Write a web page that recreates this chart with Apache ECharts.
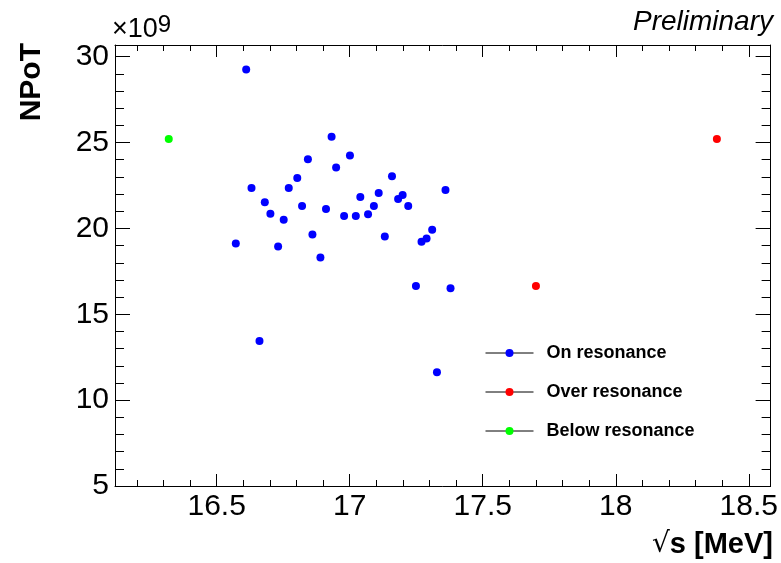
<!DOCTYPE html>
<html>
<head>
<meta charset="utf-8">
<script src="https://cdn.jsdelivr.net/npm/echarts@6/dist/echarts.min.js"></script>
<style>html,body{margin:0;padding:0;background:#fff}#c{width:781px;height:563px}</style>
</head>
<body>
<div id="c"></div>
<script>
// Data (NPoT in units of 1e9, sqrt(s) in MeV)
const onX = [16.611, 16.932, 16.843, 16.949, 16.803, 16.631, 16.771, 16.681, 16.821, 16.911, 16.702, 16.752, 16.860, 16.572, 16.731, 16.890, 17.001, 17.159, 17.360, 17.109, 17.040, 17.199, 17.182, 17.091, 17.220, 16.979, 17.023, 17.069, 17.132, 17.310, 17.289, 17.270, 17.249, 17.379, 17.328, 16.661];
const onY = [29.25, 25.34, 24.02, 23.55, 22.93, 22.35, 22.35, 21.53, 21.30, 21.13, 20.85, 20.50, 19.64, 19.12, 18.94, 18.30, 24.25, 23.03, 22.23, 22.06, 21.83, 21.94, 21.71, 21.30, 21.30, 20.72, 20.72, 20.83, 19.53, 19.92, 19.41, 19.22, 16.65, 16.52, 11.62, 13.44];
const overX = [17.70, 18.38];
const overY = [16.65, 25.21];
const belowX = [16.32];
const belowY = [25.21];
const seriesNames = ['On resonance', 'Over resonance', 'Below resonance'];
const yTitle = 'NPoT';
const tag = 'Preliminary';

const zip = (a, b) => a.map((v, i) => [v, b[i]]);
const FONT = 'Liberation Sans, Arial, Helvetica, sans-serif';

const chart = echarts.init(document.getElementById('c'), null, {renderer: 'canvas'});

function mkSeries(name, data, color) {
  return {
    name: name, type: 'line', data: data,
    symbol: 'circle', symbolSize: 8, showSymbol: true, showAllSymbol: true,
    lineStyle: {width: 0, opacity: 0},
    itemStyle: {color: color},
    emphasis: {disabled: true},
    silent: true, z: 5
  };
}

const xCommon = {
  type: 'value', min: 16.118, max: 18.582, splitNumber: 5,
  splitLine: {show: false},
  axisLine: {show: true, onZero: false, lineStyle: {color: '#000', width: 1}},
  minorTick: {show: true, splitNumber: 5, length: 6, lineStyle: {color: '#000', width: 1}},
  axisTick: {show: true, inside: true, length: 12, lineStyle: {color: '#000', width: 1}}
};
const yCommon = {
  type: 'value', min: 5, max: 30.68, splitNumber: 5,
  splitLine: {show: false},
  axisLine: {show: true, onZero: false, lineStyle: {color: '#000', width: 1}},
  minorTick: {show: true, splitNumber: 5, length: 9, lineStyle: {color: '#000', width: 1}},
  axisTick: {show: true, inside: true, length: 15, lineStyle: {color: '#000', width: 1}}
};

chart.setOption({
  animation: false,
  backgroundColor: '#fff',
  grid: {left: 115, right: 7, top: 45, bottom: 77, containLabel: false},
  xAxis: [
    Object.assign({}, xCommon, {
      position: 'bottom',
      axisLabel: {show: true, color: '#000', fontFamily: FONT, fontSize: 30, margin: 6,
                  showMinLabel: false, showMaxLabel: false}
    }),
    Object.assign({}, xCommon, {position: 'top', axisLabel: {show: false}})
  ],
  yAxis: [
    Object.assign({}, yCommon, {
      position: 'left',
      axisLabel: {show: true, color: '#000', fontFamily: FONT, fontSize: 30, margin: 6,
                  showMaxLabel: false}
    }),
    Object.assign({}, yCommon, {position: 'right', axisLabel: {show: false}})
  ],
  legend: {
    orient: 'vertical', left: 480, top: 339,
    itemWidth: 48, itemHeight: 10, itemGap: 21,
    lineStyle: {color: '#000', width: 1, opacity: 1},
    textStyle: {color: '#000', fontFamily: FONT, fontWeight: 'bold', fontSize: 18, padding: [0, 0, 0, 8]},
    data: seriesNames,
    selectedMode: false
  },
  series: [
    mkSeries(seriesNames[0], zip(onX, onY), '#0000ff'),
    mkSeries(seriesNames[1], zip(overX, overY), '#ff0000'),
    mkSeries(seriesNames[2], zip(belowX, belowY), '#00ff00')
  ],
  graphic: [
    {type: 'text', x: 17, y: 43, rotation: Math.PI / 2,
     style: {text: yTitle, font: 'bold 30px ' + FONT, fill: '#000', align: 'right', verticalAlign: 'top'}},
    {type: 'text', right: 8, top: 530,
     style: {text: '{r|\u221A}{b|s [MeV]}', fill: '#000',
             rich: {r: {font: '28px DejaVu Sans', fill: '#000'}, b: {font: 'bold 29px ' + FONT, fill: '#000'}}}},
    {type: 'text', left: 112, top: 13,
     style: {text: '{n|\u00D710}{s|9}', fill: '#000',
             rich: {n: {font: '27px ' + FONT, fill: '#000'},
                    s: {font: '24px ' + FONT, fill: '#000', verticalAlign: 'bottom', padding: [0, 0, 9, 0]}}}},
    {type: 'text', right: 8, top: 8,
     style: {text: tag, font: 'italic 28px ' + FONT, fill: '#000'}}
  ]
});
</script>
</body>
</html>
